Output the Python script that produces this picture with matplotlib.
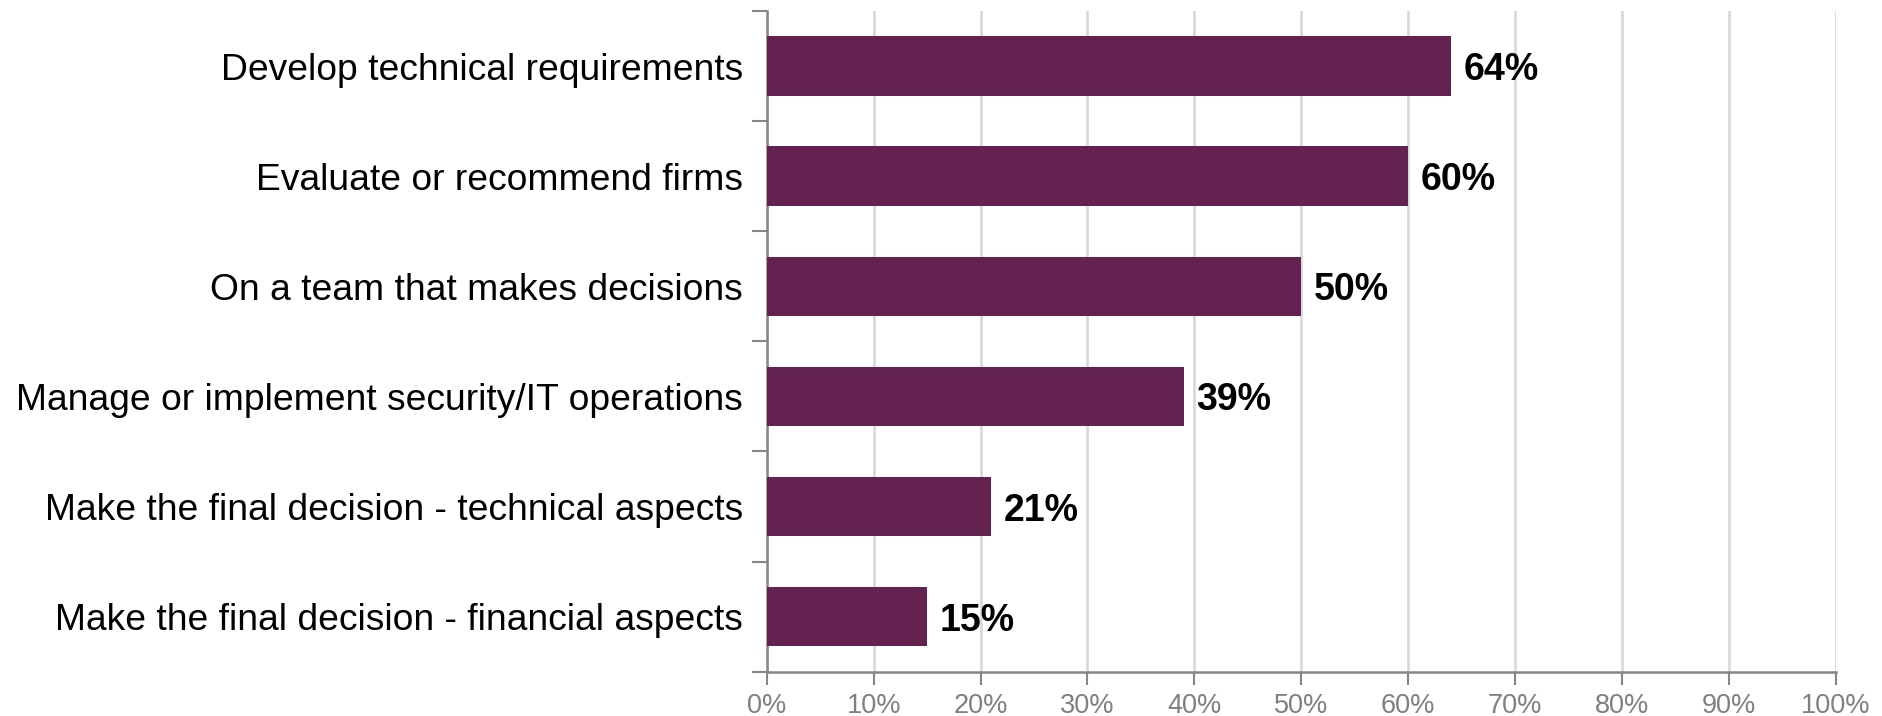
import matplotlib

matplotlib.use("Agg")
import matplotlib.pyplot as plt
from matplotlib.ticker import FixedLocator, PercentFormatter

plt.rcParams["font.family"] = ["Liberation Sans", "DejaVu Sans"]

BAR_COLOR = "#63224f"
AXIS_COLOR = "#868686"
GRID_COLOR = "#d9d9d9"

# Survey roles, top to bottom, and share of respondents (%)
roles = [
    "Develop technical requirements",
    "Evaluate or recommend firms",
    "On a team that makes decisions",
    "Manage or implement security/IT operations",
    "Make the final decision - technical aspects",
    "Make the final decision - financial aspects",
]
shares = [64, 60, 50, 39, 21, 15]
x_ticks = list(range(0, 101, 10))

fig = plt.figure(figsize=(18.83, 7.16), dpi=100)
ax = fig.add_axes([0.4072, 0.0619, 0.5677, 0.9227])

y = list(range(len(roles)))
bars = ax.barh(y, shares, height=0.54, color=BAR_COLOR, zorder=3)
ax.set_ylim(len(roles) - 0.5, -0.5)
ax.set_xlim(0, 100)

for bar, v in zip(bars, shares):
    ax.annotate(f"{v}%", (bar.get_width(), bar.get_y() + bar.get_height() / 2),
                xytext=(9, 0), textcoords="offset points", ha="left",
                va="center_baseline", fontsize=27, fontweight="bold", color="black")

# category boundaries carry the tick marks, labels sit on minor ticks
ax.yaxis.set_major_locator(FixedLocator([i - 0.5 for i in range(len(roles) + 1)]))
ax.yaxis.set_minor_locator(FixedLocator(y))
ax.set_yticklabels([], minor=False)
ax.set_yticklabels(roles, minor=True, fontsize=26.8)
ax.tick_params(axis="y", which="major", length=11, width=1.5, color=AXIS_COLOR)
ax.tick_params(axis="y", which="minor", length=0, pad=17)

ax.set_xticks(x_ticks)
ax.xaxis.set_major_formatter(PercentFormatter(decimals=0))
ax.tick_params(axis="x", length=9, width=1.5, color=AXIS_COLOR, labelcolor="#7f7f7f",
               labelsize=19.5, pad=6)
ax.grid(axis="x", color=GRID_COLOR, linewidth=2, zorder=0)

for side in ("top", "right"):
    ax.spines[side].set_visible(False)
for side in ("left", "bottom"):
    ax.spines[side].set_color(AXIS_COLOR)
    ax.spines[side].set_linewidth(1.8)

fig.savefig("out.png", dpi=100)
